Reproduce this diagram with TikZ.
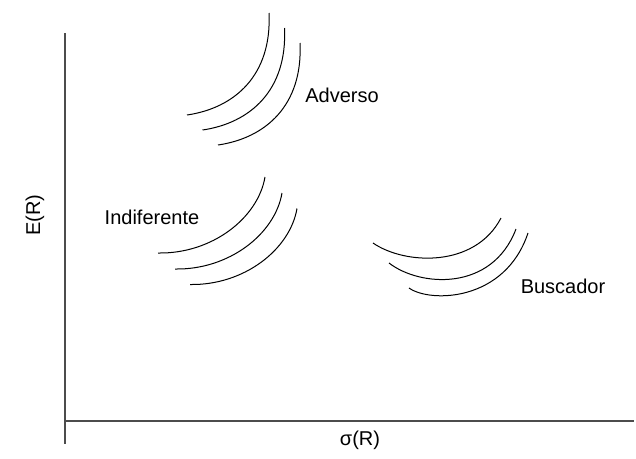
\documentclass[tikz,border=0pt]{standalone}
\usepackage{fontspec}
\setmainfont{Liberation Sans}
\usetikzlibrary{positioning}

\begin{document}
\begin{tikzpicture}[
  x=0.75pt, y=-0.75pt,
  font=\fontsize{15}{18}\selectfont,
  % Line styles
  axis/.style={draw=black!70, line width=1pt},
  curve/.style={draw=black, line width=0.75pt},
  label/.style={inner sep=0pt}
]
\useasboundingbox (0,0) rectangle (636,458);

% ── Axes ─────────────────────────────────────────────────────────────────────
\coordinate (ytop)  at (65,33);
\coordinate (ybot)  at (65,444);
\coordinate (orig)  at (65,421);
\coordinate (xend)  at (634,421);
\draw[axis] (ytop) -- (ybot);
\draw[axis] (orig) -- (xend);

\node[label, rotate=90] (ey) at (35,215) {E(R)};
\node[label]            (sx) at (360,440) {σ(R)};

% ── Adverso curves ───────────────────────────────────────────────────────────
\foreach \dx/\dy in {0/0, 15.5/15, 31/30} {
  \draw[curve, shift={(\dx,\dy)}]
    (187,115) .. controls (235,108) and (272,75) .. (269,13);
}
\node[label] (adv) at (342,95) {Adverso};

% ── Indiferente curves ───────────────────────────────────────────────────────
\foreach \dx/\dy in {0/0, 17/16, 32/31.5} {
  \draw[curve, shift={(\dx,\dy)}]
    (158,253) .. controls (212,254) and (258,218) .. (265,177);
}
\node[label] (ind) at (152,217) {Indiferente};

% ── Buscador curves ──────────────────────────────────────────────────────────
\draw[curve] (373,243) .. controls (405,265) and (475,268) .. (501,218);
\draw[curve] (389,263) .. controls (420,287) and (492,292) .. (516,229);
\draw[curve] (409,288) .. controls (430,303) and (505,302) .. (528,233);
\node[label] (bus) at (563,286) {Buscador};

\end{tikzpicture}
\end{document}
